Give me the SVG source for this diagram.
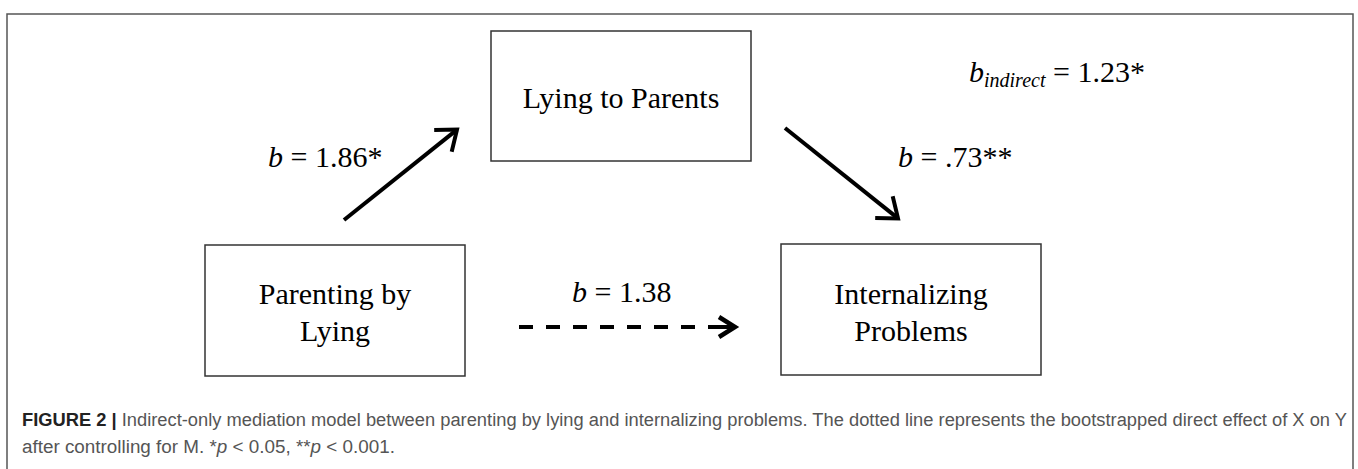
<svg xmlns="http://www.w3.org/2000/svg" width="1358" height="469" viewBox="0 0 1358 469">
<style>
.box{fill:#fff;stroke:#333;stroke-width:1.5}
.nt{font-family:"Liberation Serif","Times New Roman",serif;font-size:30px;fill:#000;text-anchor:middle}
.lb{font-family:"Liberation Serif","Times New Roman",serif;font-size:30px;fill:#000}
.it{font-style:italic}
.arr{stroke:#000;stroke-width:4;fill:none}
.cap{font-family:"Liberation Sans",Arial,sans-serif;font-size:18px;fill:#555}
</style>
<defs>
<marker id="head" markerUnits="userSpaceOnUse" markerWidth="40" markerHeight="40" viewBox="-25 -20 30 40" refX="0" refY="0" orient="auto">
<path d="M-18,-14 L0,0 L-18,14" fill="none" stroke="#000" stroke-width="4" stroke-linejoin="miter"/>
</marker>
<marker id="head2" markerUnits="userSpaceOnUse" markerWidth="40" markerHeight="40" viewBox="-25 -20 30 40" refX="0" refY="0" orient="auto">
<path d="M-16,-10 L0,0 L-16,10" fill="none" stroke="#000" stroke-width="4.5" stroke-linejoin="miter"/>
</marker>
</defs>
<rect width="1358" height="469" fill="#fff"/>
<path d="M7,480 V14 H1353 V480" fill="none" stroke="#555" stroke-width="1.5"/>

<g id="node-lying-to-parents">
<rect class="box" x="491" y="31" width="260" height="130"/>
<text class="nt" x="621" y="108">Lying to Parents</text>
</g>
<g id="node-parenting-by-lying">
<rect class="box" x="205" y="245" width="260" height="131"/>
<text class="nt" x="335" y="304">Parenting by</text>
<text class="nt" x="335" y="341">Lying</text>
</g>
<g id="node-internalizing-problems">
<rect class="box" x="781" y="244" width="260" height="131"/>
<text class="nt" x="911" y="304">Internalizing</text>
<text class="nt" x="911" y="341">Problems</text>
</g>

<g id="connectors">
<line class="arr" x1="344" y1="220" x2="457" y2="129.6" marker-end="url(#head)"/>
<line class="arr" x1="785" y1="128" x2="898" y2="218.4" marker-end="url(#head)"/>
<line class="arr" x1="519" y1="327" x2="695" y2="327" stroke-width="5" stroke-dasharray="14 13"/>
<line class="arr" x1="708" y1="327" x2="735" y2="327" stroke-width="5" marker-end="url(#head2)"/>
</g>

<g id="labels">
<text class="lb" x="268" y="167"><tspan class="it">b</tspan> = 1.86*</text>
<text class="lb" x="898" y="167"><tspan class="it">b</tspan> = .73**</text>
<text class="lb" x="572" y="302"><tspan class="it">b</tspan> = 1.38</text>
<text class="lb" x="969" y="82"><tspan class="it">b</tspan><tspan class="it" font-size="20" dy="5">indirect</tspan><tspan dy="-5"> = 1.23*</tspan></text>
</g>

<g id="caption">
<text class="cap" x="22" y="426" textLength="1325" lengthAdjust="spacingAndGlyphs"><tspan font-weight="bold" fill="#222">FIGURE 2 |</tspan> Indirect-only mediation model between parenting by lying and internalizing problems. The dotted line represents the bootstrapped direct effect of X on Y</text>
<text class="cap" x="22" y="453" textLength="373" lengthAdjust="spacingAndGlyphs">after controlling for M. *<tspan font-style="italic">p</tspan> &lt; 0.05, **<tspan font-style="italic">p</tspan> &lt; 0.001.</text>
</g>
</svg>
